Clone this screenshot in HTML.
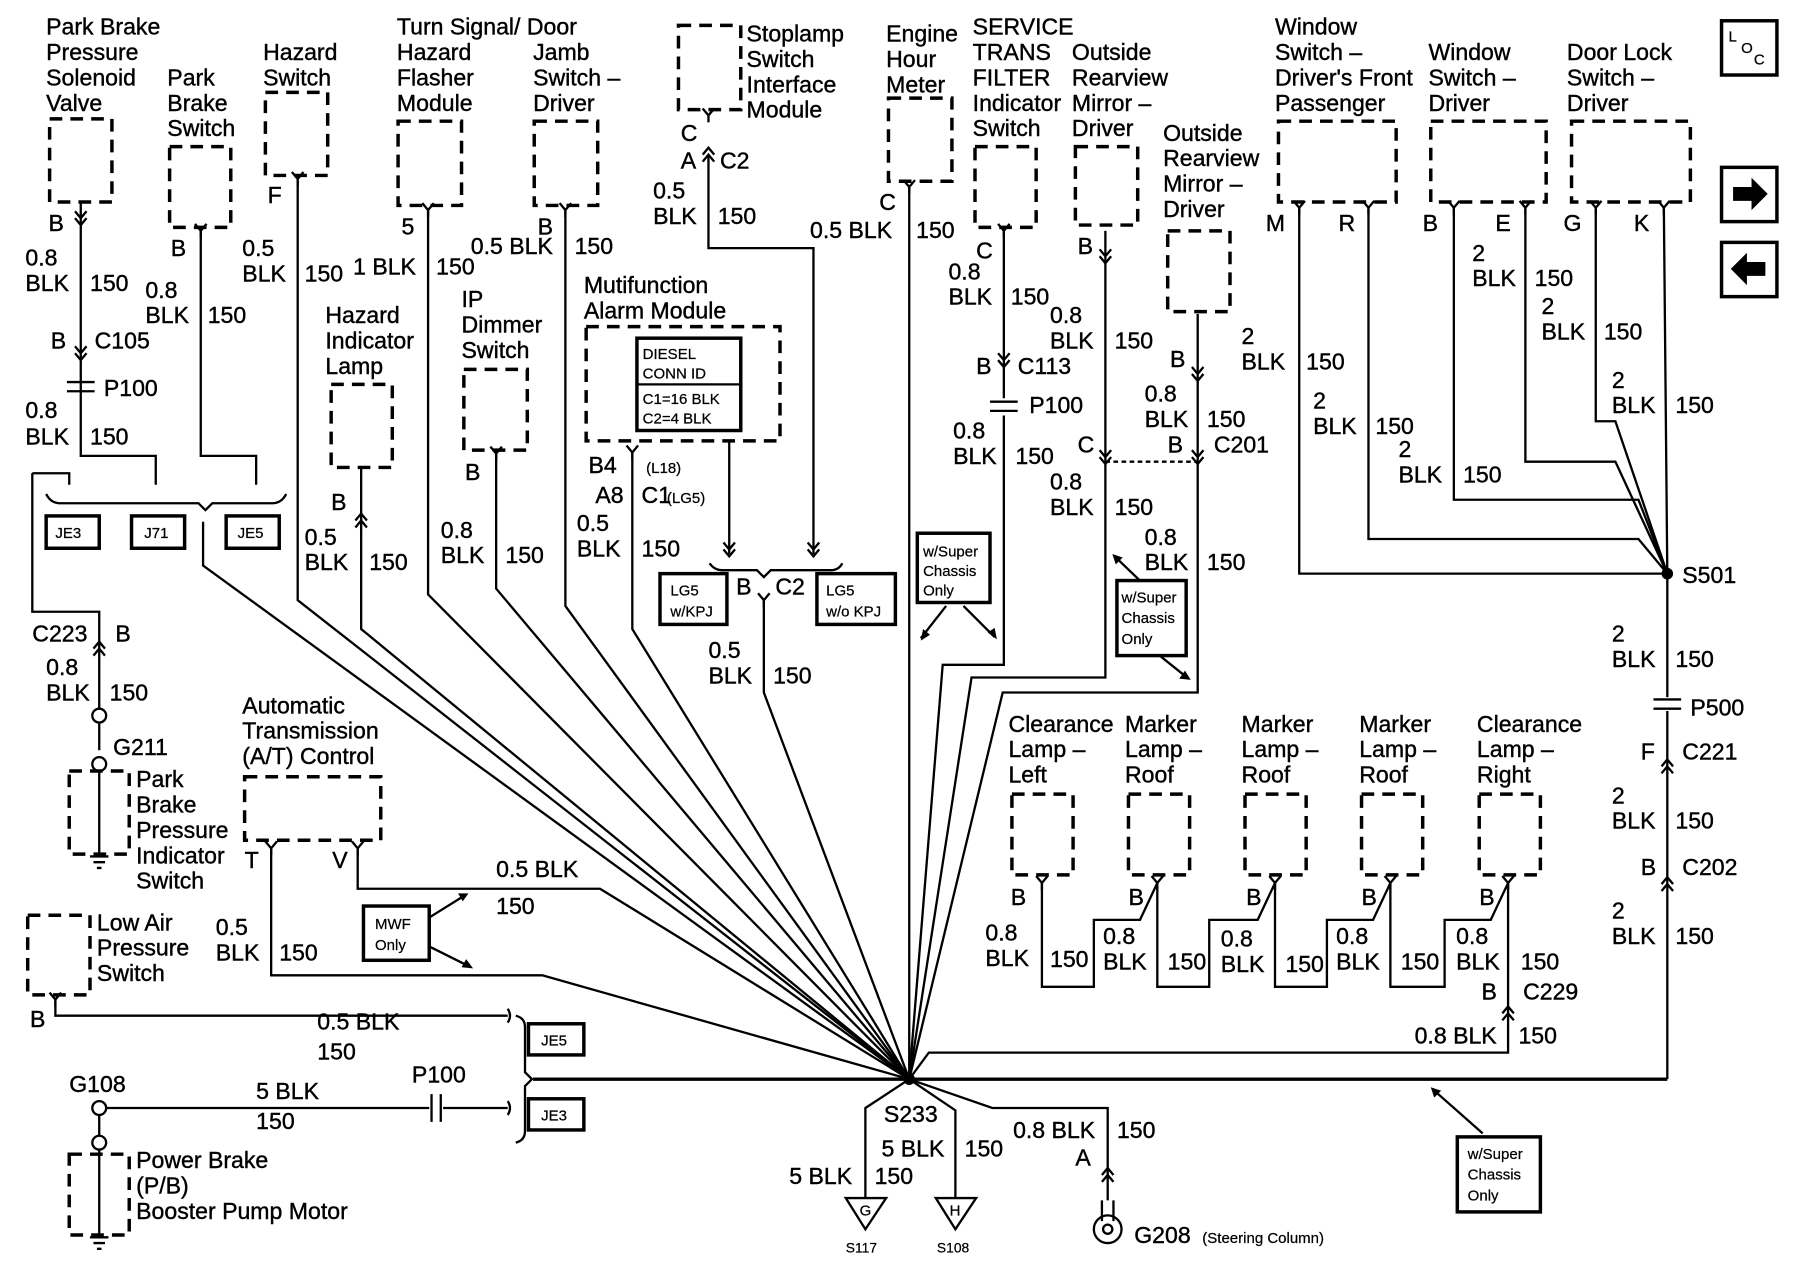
<!DOCTYPE html>
<html><head><meta charset="utf-8"><style>
html,body{margin:0;padding:0;background:#fff}
svg{display:block}
text{font-family:"Liberation Sans",Arial,sans-serif;font-size:20px;fill:#000;stroke:#000;stroke-width:0.35}
.s{font-size:13px;stroke-width:0.2}
.xs{font-size:12px;stroke-width:0.2}
.w{fill:none;stroke:#000;stroke-width:2}
.d{fill:none;stroke:#000;stroke-width:3;stroke-dasharray:11 7}
.b{fill:#fff;stroke:#000;stroke-width:3}
</style></head><body>
<svg width="1800" height="1280" viewBox="0 0 1560 1109" preserveAspectRatio="none" xmlns="http://www.w3.org/2000/svg">
<defs>
<path id="pin" d="M-5,-6 L0,0 L5,-6 M0,0 L0,6" class="w"/>
<path id="up" d="M-5,6 L0,0 L5,6 M-5,12 L0,6 L5,12" class="w"/>
<path id="dn" d="M-5,-6 L0,0 L5,-6 M-5,-12 L0,-6 L5,-12" class="w"/>
</defs>

<g class="d">
<rect x="43" y="103" width="54" height="72"/>
<rect x="147" y="127" width="53" height="70"/>
<rect x="230" y="80" width="54" height="72"/>
<rect x="345" y="105" width="55" height="73"/>
<rect x="463" y="105" width="55" height="73"/>
<rect x="287" y="333" width="53" height="72"/>
<rect x="402" y="320" width="55" height="70"/>
<rect x="588" y="22" width="54" height="73"/>
<rect x="508" y="283" width="168" height="99"/>
<rect x="770" y="85" width="55" height="72"/>
<rect x="845" y="127" width="53" height="70"/>
<rect x="932" y="127" width="54" height="68"/>
<rect x="1012" y="200" width="54" height="70"/>
<rect x="1108" y="105" width="102" height="70"/>
<rect x="1240" y="105" width="100" height="70"/>
<rect x="1362" y="105" width="103" height="70"/>
<rect x="877" y="688" width="53" height="70"/>
<rect x="978" y="688" width="53" height="70"/>
<rect x="1079" y="688" width="53" height="70"/>
<rect x="1180" y="688" width="53" height="70"/>
<rect x="1282" y="688" width="53" height="70"/>
<rect x="212" y="673" width="118" height="55"/>
<rect x="60" y="668" width="52" height="72"/>
<rect x="24" y="793" width="54" height="69"/>
<rect x="60" y="1000" width="52" height="70"/>
</g>

<g class="w">
<path d="M70,175 V395 H135 V420"/>
<path d="M174,200 V395 H222 V420"/>
<path d="M28,410 H60 V420 M28,410 V530 H86 V614"/>
<path d="M86,626 V650"/>
<circle cx="86" cy="620" r="6"/><circle cx="86" cy="662" r="6"/>
<path d="M86,668 V740 M78,742 H94 M81,747 H91 M84,752 H88"/>
<path d="M40,428 Q44,436 52,436 H172 L178,442 L184,436 H236 Q244,436 248,428"/>
<path d="M176,452 V490 L788,935"/>
<path d="M258,155 V520 L788,935"/>
<path d="M313,405 V545 L788,935"/>
<path d="M371,182 V515 L788,935"/>
<path d="M430,393 V510 L788,935"/>
<path d="M490,182 V525 L788,935"/>
<path d="M548,392 V545 L788,935"/>
<path d="M614,135 V215 H705 V480"/>
<path d="M632,382 V480"/>
<path d="M615,488 Q619,494 626,494 H656 L662,500 L668,494 H720 Q727,494 730,488"/>
<path d="M662,520 V600 L788,935"/>
<path d="M788,162 V935"/>
<path d="M870,200 V345 M870,360 V576 H817 L788,935"/>
<path d="M958,200 V587 H842 L788,935"/>
<path d="M1038,272 V600 H869 L788,935"/>
<path d="M958,400 H1038" stroke-dasharray="4 3"/>
<path d="M1126,180 V497 H1445"/>
<path d="M1186,180 V467 H1420 L1445,497"/>
<path d="M1260,180 V433 H1420 L1445,497"/>
<path d="M1322,180 V400 H1400 L1445,497"/>
<path d="M1383,180 V365 H1400 L1445,497"/>
<path d="M1442,180 L1445,497"/>
<path d="M1445,497 V604 M1445,616 V935"/>
<path d="M903,765 V855 H948 V797 H988 L1003,765 M1003,765 V855 H1048 V797 H1090 L1105,765 M1105,765 V855 H1150 V797 H1190 L1205,765 M1205,765 V855 H1252 V797 H1292 L1307,765 M1307,765 V912 H805 L788,935"/>
<path d="M310,735 V770 H520 L788,935"/>
<path d="M235,735 V845 H470 L788,935"/>
<path d="M48,866 V880 H440 M440,874 Q444,880 440,886"/>
<path d="M92,960 H372 M384,960 H440 M440,954 Q444,960 440,966"/>
<circle cx="86" cy="960" r="6"/><circle cx="86" cy="990" r="6"/>
<path d="M86,966 V984 M86,996 V1070 M78,1072 H94 M81,1077 H91 M84,1082 H88"/>
<path d="M447,880 Q455,882 455,890 V929 L461,935 L455,941 V980 Q455,988 447,990"/>
<path d="M462,935 H1445" stroke-width="3"/>
<path d="M788,935 L750,960 V1038 M788,935 L828,962 V1038 M788,935 L860,960 H960 V1040"/>
<path d="M733,1038 H768 L750,1065 Z M811,1038 H846 L828,1065 Z"/>
<path d="M955,1040 V1058 M965,1040 V1058"/>
<circle cx="960" cy="1065" r="12"/><circle cx="960" cy="1065" r="4"/>
<path d="M820,525 L798,553 M835,525 L862,552 M990,505 L966,482 M1005,568 L1030,588 M372,795 L404,775 M372,820 L408,838 M1285,982 L1242,944"/>
</g>
<g fill="#000">
<path d="M798,555 L800,545 L806,550Z M864,554 L856,548 L862,544Z M964,480 L973,483 L967,489Z M1032,589 L1022,588 L1027,581Z M406,774 L397,774 L401,781Z M410,839 L400,838 L404,831Z M1240,942 L1249,945 L1243,951Z"/>
<circle cx="788" cy="935" r="5"/><circle cx="1445" cy="497" r="5"/>
</g>
<g class="w" stroke-width="3">
<path d="M58,331 H82 M58,339 H82"/>
<path d="M858,348 H882 M858,356 H882"/>
<path d="M1433,606 H1457 M1433,614 H1457"/>
<path d="M374,948 V972 M382,948 V972"/>
</g>
<g>
<use href="#dn" x="70" y="195"/><use href="#dn" x="70" y="312"/>
<use href="#pin" x="174" y="200"/><use href="#pin" x="258" y="155"/>
<use href="#pin" x="371" y="182"/><use href="#pin" x="490" y="182"/>
<use href="#up" x="313" y="445"/><use href="#pin" x="430" y="393"/>
<use href="#pin" x="614" y="100"/><use href="#up" x="614" y="128"/>
<use href="#pin" x="548" y="392"/><use href="#dn" x="632" y="482"/><use href="#dn" x="705" y="482"/>
<use href="#pin" x="662" y="520"/>
<use href="#pin" x="788" y="162"/><use href="#pin" x="870" y="200"/><use href="#dn" x="870" y="318"/>
<use href="#dn" x="958" y="228"/><use href="#dn" x="958" y="402"/>
<use href="#dn" x="1038" y="330"/><use href="#dn" x="1038" y="402"/>
<use href="#pin" x="1126" y="180"/><use href="#pin" x="1186" y="180"/>
<use href="#pin" x="1260" y="180"/><use href="#pin" x="1322" y="180"/>
<use href="#pin" x="1383" y="180"/><use href="#pin" x="1442" y="180"/>
<use href="#up" x="1445" y="658"/><use href="#up" x="1445" y="760"/>
<use href="#pin" x="903" y="765"/><use href="#pin" x="1003" y="765"/><use href="#pin" x="1105" y="765"/><use href="#pin" x="1205" y="765"/><use href="#pin" x="1307" y="765"/>
<use href="#up" x="1307" y="872"/>
<use href="#pin" x="235" y="735"/><use href="#pin" x="310" y="735"/>
<use href="#pin" x="48" y="866"/><use href="#up" x="86" y="556"/>
<use href="#up" x="960" y="1012"/>
</g>
<g class="b">
<rect x="552" y="293" width="90" height="80"/>
<rect x="40" y="447" width="46" height="28"/><rect x="114" y="447" width="46" height="28"/><rect x="196" y="447" width="46" height="28"/>
<rect x="572" y="497" width="58" height="44"/><rect x="708" y="497" width="68" height="44"/>
<rect x="795" y="462" width="63" height="60"/><rect x="968" y="503" width="60" height="65"/>
<rect x="315" y="785" width="57" height="47"/>
<rect x="458" y="887" width="48" height="27"/><rect x="458" y="952" width="48" height="27"/>
<rect x="1263" y="985" width="72" height="65"/>
<rect x="1492" y="18" width="48" height="47"/><rect x="1492" y="145" width="48" height="47"/><rect x="1492" y="210" width="48" height="47"/>
</g>
<path d="M552,333 H642" class="w"/>
<path d="M1502,162 H1518 V154 L1532,168 L1518,182 V174 H1502Z M1530,227 H1514 V219 L1500,233 L1514,247 V239 H1530Z" fill="#000"/>

<text x="40" y="30">Park Brake</text><text x="40" y="52">Pressure</text><text x="40" y="74">Solenoid</text><text x="40" y="96">Valve</text>
<text x="42" y="200">B</text><text x="22" y="230">0.8</text><text x="22" y="252">BLK</text><text x="78" y="252">150</text>
<text x="44" y="302">B</text><text x="82" y="302">C105</text><text x="90" y="343">P100</text>
<text x="22" y="362">0.8</text><text x="22" y="385">BLK</text><text x="78" y="385">150</text>
<text x="145" y="74">Park</text><text x="145" y="96">Brake</text><text x="145" y="118">Switch</text>
<text x="148" y="222">B</text><text x="126" y="258">0.8</text><text x="126" y="280">BLK</text><text x="180" y="280">150</text>
<text x="228" y="52">Hazard</text><text x="228" y="74">Switch</text><text x="232" y="176">F</text>
<text x="210" y="222">0.5</text><text x="210" y="244">BLK</text><text x="264" y="244">150</text>
<text class="s" x="48" y="466">JE3</text><text class="s" x="125" y="466">J71</text><text class="s" x="206" y="466">JE5</text>
<text x="28" y="556">C223</text><text x="100" y="556">B</text>
<text x="40" y="585">0.8</text><text x="40" y="607">BLK</text><text x="95" y="607">150</text>
<text x="98" y="654">G211</text>
<text x="118" y="682">Park</text><text x="118" y="704">Brake</text><text x="118" y="726">Pressure</text><text x="118" y="748">Indicator</text><text x="118" y="770">Switch</text>
<text x="344" y="30">Turn Signal/ Door</text><text x="344" y="52">Hazard</text><text x="344" y="74">Flasher</text><text x="344" y="96">Module</text>
<text x="462" y="52">Jamb</text><text x="462" y="74">Switch –</text><text x="462" y="96">Driver</text>
<text x="348" y="203">5</text><text x="466" y="203">B</text>
<text x="306" y="238">1 BLK</text><text x="378" y="238">150</text><text x="408" y="220">0.5 BLK</text><text x="498" y="220">150</text>
<text x="282" y="280">Hazard</text><text x="282" y="302">Indicator</text><text x="282" y="324">Lamp</text>
<text x="287" y="442">B</text><text x="264" y="472">0.5</text><text x="264" y="494">BLK</text><text x="320" y="494">150</text>
<text x="400" y="266">IP</text><text x="400" y="288">Dimmer</text><text x="400" y="310">Switch</text>
<text x="403" y="416">B</text><text x="382" y="466">0.8</text><text x="382" y="488">BLK</text><text x="438" y="488">150</text>
<text x="647" y="36">Stoplamp</text><text x="647" y="58">Switch</text><text x="647" y="80">Interface</text><text x="647" y="102">Module</text>
<text x="590" y="122">C</text><text x="590" y="146">A</text><text x="624" y="146">C2</text>
<text x="566" y="172">0.5</text><text x="566" y="194">BLK</text><text x="622" y="194">150</text>
<text x="506" y="254">Mutifunction</text><text x="506" y="276">Alarm Module</text>
<text class="s" x="557" y="311">DIESEL</text><text class="s" x="557" y="328">CONN ID</text><text class="s" x="557" y="350">C1=16 BLK</text><text class="s" x="557" y="367">C2=4 BLK</text>
<text x="510" y="410">B4</text><text class="s" x="560" y="410">(L18)</text>
<text x="516" y="436">A8</text><text x="556" y="436">C1</text><text class="s" x="578" y="436">(LG5)</text>
<text x="500" y="460">0.5</text><text x="500" y="482">BLK</text><text x="556" y="482">150</text>
<text x="638" y="515">B</text><text x="672" y="515">C2</text>
<text class="s" x="581" y="516">LG5</text><text class="s" x="581" y="534">w/KPJ</text>
<text class="s" x="716" y="516">LG5</text><text class="s" x="716" y="534">w/o KPJ</text>
<text x="614" y="570">0.5</text><text x="614" y="592">BLK</text><text x="670" y="592">150</text>
<text x="768" y="36">Engine</text><text x="768" y="58">Hour</text><text x="768" y="80">Meter</text>
<text x="762" y="182">C</text><text x="702" y="206">0.5 BLK</text><text x="794" y="206">150</text>
<text x="843" y="30">SERVICE</text><text x="843" y="52">TRANS</text><text x="843" y="74">FILTER</text><text x="843" y="96">Indicator</text><text x="843" y="118">Switch</text>
<text x="846" y="224">C</text><text x="822" y="242">0.8</text><text x="822" y="264">BLK</text><text x="876" y="264">150</text>
<text x="846" y="324">B</text><text x="882" y="324">C113</text><text x="892" y="358">P100</text>
<text x="826" y="380">0.8</text><text x="826" y="402">BLK</text><text x="880" y="402">150</text>
<text class="s" x="800" y="482">w/Super</text><text class="s" x="800" y="499">Chassis</text><text class="s" x="800" y="516">Only</text>
<text x="929" y="52">Outside</text><text x="929" y="74">Rearview</text><text x="929" y="96">Mirror –</text><text x="929" y="118">Driver</text>
<text x="934" y="220">B</text><text x="910" y="280">0.8</text><text x="910" y="302">BLK</text><text x="966" y="302">150</text>
<text x="934" y="392">C</text><text x="910" y="424">0.8</text><text x="910" y="446">BLK</text><text x="966" y="446">150</text>
<text x="1008" y="122">Outside</text><text x="1008" y="144">Rearview</text><text x="1008" y="166">Mirror –</text><text x="1008" y="188">Driver</text>
<text x="1014" y="318">B</text><text x="992" y="348">0.8</text><text x="992" y="370">BLK</text><text x="1046" y="370">150</text>
<text x="1012" y="392">B</text><text x="1052" y="392">C201</text>
<text x="992" y="472">0.8</text><text x="992" y="494">BLK</text><text x="1046" y="494">150</text>
<text class="s" x="972" y="522">w/Super</text><text class="s" x="972" y="540">Chassis</text><text class="s" x="972" y="558">Only</text>
<text x="1076" y="298">2</text><text x="1076" y="320">BLK</text><text x="1132" y="320">150</text>
<text x="1105" y="30">Window</text><text x="1105" y="52">Switch –</text><text x="1105" y="74">Driver's Front</text><text x="1105" y="96">Passenger</text>
<text x="1097" y="200">M</text><text x="1160" y="200">R</text>
<text x="1138" y="354">2</text><text x="1138" y="376">BLK</text><text x="1192" y="376">150</text>
<text x="1238" y="52">Window</text><text x="1238" y="74">Switch –</text><text x="1238" y="96">Driver</text>
<text x="1233" y="200">B</text><text x="1296" y="200">E</text>
<text x="1276" y="226">2</text><text x="1276" y="248">BLK</text><text x="1330" y="248">150</text>
<text x="1336" y="272">2</text><text x="1336" y="294">BLK</text><text x="1390" y="294">150</text>
<text x="1212" y="396">2</text><text x="1212" y="418">BLK</text><text x="1268" y="418">150</text>
<text x="1358" y="52">Door Lock</text><text x="1358" y="74">Switch –</text><text x="1358" y="96">Driver</text>
<text x="1355" y="200">G</text><text x="1416" y="200">K</text>
<text x="1397" y="336">2</text><text x="1397" y="358">BLK</text><text x="1452" y="358">150</text>
<text x="1458" y="505">S501</text>
<text x="1397" y="556">2</text><text x="1397" y="578">BLK</text><text x="1452" y="578">150</text>
<text x="1465" y="620">P500</text><text x="1422" y="658">F</text><text x="1458" y="658">C221</text>
<text x="1397" y="696">2</text><text x="1397" y="718">BLK</text><text x="1452" y="718">150</text>
<text x="1422" y="758">B</text><text x="1458" y="758">C202</text>
<text x="1397" y="796">2</text><text x="1397" y="818">BLK</text><text x="1452" y="818">150</text>
<text class="s" x="1498" y="36">L</text><text class="s" x="1509" y="46">O</text><text class="s" x="1520" y="56">C</text>
<text x="874" y="634">Clearance</text><text x="874" y="656">Lamp –</text><text x="874" y="678">Left</text>
<text x="975" y="634">Marker</text><text x="975" y="656">Lamp –</text><text x="975" y="678">Roof</text>
<text x="1076" y="634">Marker</text><text x="1076" y="656">Lamp –</text><text x="1076" y="678">Roof</text>
<text x="1178" y="634">Marker</text><text x="1178" y="656">Lamp –</text><text x="1178" y="678">Roof</text>
<text x="1280" y="634">Clearance</text><text x="1280" y="656">Lamp –</text><text x="1280" y="678">Right</text>
<text x="876" y="784">B</text><text x="978" y="784">B</text><text x="1080" y="784">B</text><text x="1180" y="784">B</text><text x="1282" y="784">B</text>
<text x="854" y="815">0.8</text><text x="854" y="837">BLK</text><text x="910" y="838">150</text>
<text x="956" y="818">0.8</text><text x="956" y="840">BLK</text><text x="1012" y="840">150</text>
<text x="1058" y="820">0.8</text><text x="1058" y="842">BLK</text><text x="1114" y="842">150</text>
<text x="1158" y="818">0.8</text><text x="1158" y="840">BLK</text><text x="1214" y="840">150</text>
<text x="1262" y="818">0.8</text><text x="1262" y="840">BLK</text><text x="1318" y="840">150</text>
<text x="1284" y="866">B</text><text x="1320" y="866">C229</text>
<text x="1226" y="904">0.8 BLK</text><text x="1316" y="904">150</text>
<text x="210" y="618">Automatic</text><text x="210" y="640">Transmission</text><text x="210" y="662">(A/T) Control</text>
<text x="212" y="752">T</text><text x="288" y="752">V</text>
<text x="430" y="760">0.5 BLK</text><text x="430" y="792">150</text>
<text class="s" x="325" y="805">MWF</text><text class="s" x="325" y="823">Only</text>
<text x="187" y="810">0.5</text><text x="187" y="832">BLK</text><text x="242" y="832">150</text>
<text x="84" y="806">Low Air</text><text x="84" y="828">Pressure</text><text x="84" y="850">Switch</text>
<text x="26" y="890">B</text><text x="275" y="892">0.5 BLK</text><text x="275" y="918">150</text>
<text class="s" x="469" y="906">JE5</text><text class="s" x="469" y="971">JE3</text>
<text x="60" y="946">G108</text><text x="357" y="938">P100</text><text x="222" y="952">5 BLK</text><text x="222" y="978">150</text>
<text x="118" y="1012">Power Brake</text><text x="118" y="1034">(P/B)</text><text x="118" y="1056">Booster Pump Motor</text>
<text x="766" y="972">S233</text>
<text x="764" y="1002">5 BLK</text><text x="836" y="1002">150</text>
<text x="684" y="1026">5 BLK</text><text x="758" y="1026">150</text>
<text x="878" y="986">0.8 BLK</text><text x="968" y="986">150</text><text x="932" y="1010">A</text>
<text class="s" x="745" y="1053">G</text><text class="s" x="823" y="1053">H</text>
<text class="xs" x="733" y="1085">S117</text><text class="xs" x="812" y="1085">S108</text>
<text x="983" y="1077">G208</text><text class="s" x="1042" y="1077">(Steering Column)</text>
<text class="s" x="1272" y="1004">w/Super</text><text class="s" x="1272" y="1022">Chassis</text><text class="s" x="1272" y="1040">Only</text>
</svg>
</body></html>
